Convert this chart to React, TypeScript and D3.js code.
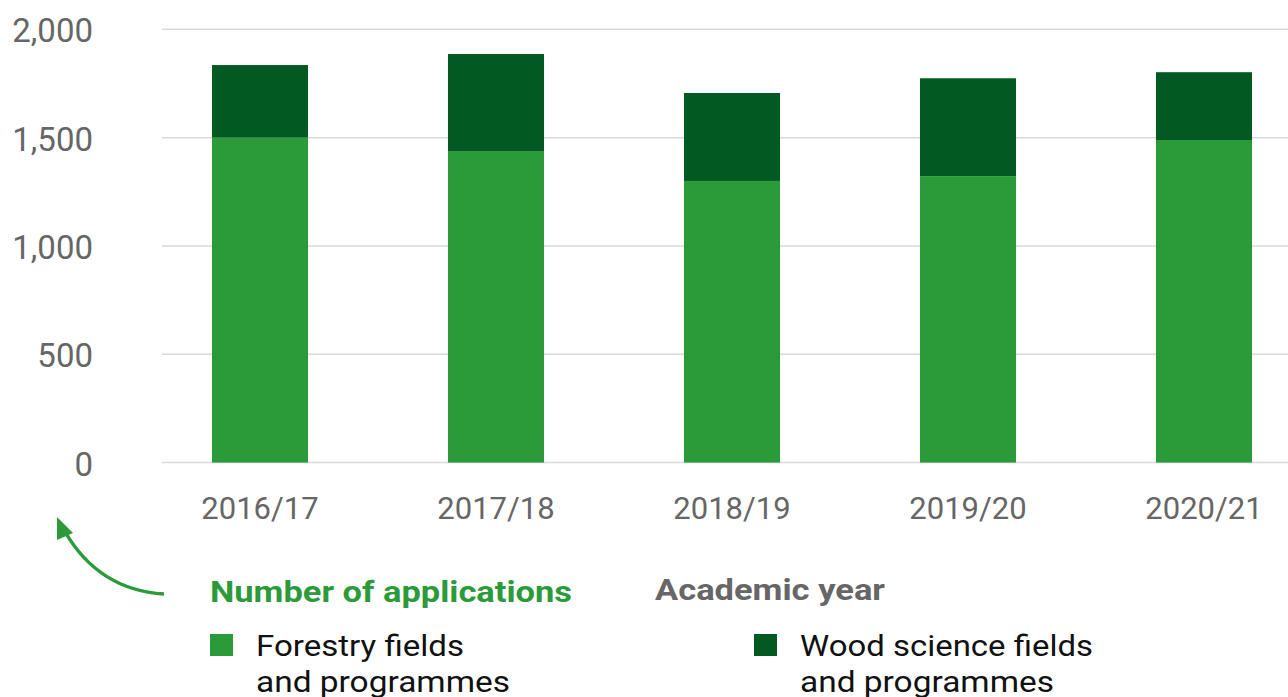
import { useEffect, useRef } from 'react';
import * as d3 from 'd3';

const years = ['2016/17', '2017/18', '2018/19', '2019/20', '2020/21'];
const forestry = [1500, 1438, 1300, 1322, 1489];
const woodScience = [335, 448, 406, 452, 313];
const yTicks = [0, 500, 1000, 1500, 2000];
const seriesNames = [
  ['Forestry fields', 'and programmes'],
  ['Wood science fields', 'and programmes'],
];
const seriesColors = ['#2b9b3a', '#025a22'];

export default function App() {
  const svgRef = useRef<SVGSVGElement>(null);

  useEffect(() => {
    if (!svgRef.current) return;
    const svg = d3.select(svgRef.current);
    svg.selectAll('*').remove();

    const font = 'Roboto, "Noto Sans", sans-serif';

    const x = d3.scaleBand<string>()
      .domain(years)
      .range([142, 1322])
      .paddingInner(0.593)
      .paddingOuter(0.2965);

    const y = d3.scaleLinear().domain([0, 2000]).range([462.6, 29.3]);

    // gridlines
    svg.append('g')
      .selectAll('line')
      .data(yTicks)
      .join('line')
      .attr('x1', 162)
      .attr('x2', 1288)
      .attr('y1', d => y(d))
      .attr('y2', d => y(d))
      .attr('stroke', '#d9d9d9')
      .attr('stroke-width', 1.5);

    // y labels
    svg.append('g')
      .selectAll('text')
      .data(yTicks)
      .join('text')
      .attr('x', 93)
      .attr('y', d => y(d) + 1.5)
      .attr('text-anchor', 'end')
      .attr('dominant-baseline', 'central')
      .style('fill', '#666666')
      .style('font-family', font)
      .style('font-size', '33px')
      .text(d => d3.format(',')(d));

    // stacked bars
    const rows = years.map((yr, i) => ({ year: yr, forestry: forestry[i], wood: woodScience[i] }));
    const stack = d3.stack<any>().keys(['forestry', 'wood'])(rows);

    svg.append('g')
      .selectAll('g')
      .data(stack)
      .join('g')
      .attr('fill', (_, i) => seriesColors[i])
      .selectAll('rect')
      .data(d => d)
      .join('rect')
      .attr('x', d => x(d.data.year)!)
      .attr('width', x.bandwidth())
      .attr('y', d => y(d[1]))
      .attr('height', d => y(d[0]) - y(d[1]));

    // x labels
    svg.append('g')
      .selectAll('text')
      .data(years)
      .join('text')
      .attr('x', d => x(d)! + x.bandwidth() / 2)
      .attr('y', 508)
      .attr('text-anchor', 'middle')
      .attr('dominant-baseline', 'central')
      .style('fill', '#666666')
      .style('font-family', font)
      .style('font-size', '31px')
      .text(d => d);

    // arrow
    svg.append('path')
      .attr('d', 'M164,594 Q98,590 64,530')
      .attr('fill', 'none')
      .attr('stroke', '#2b9b3a')
      .attr('stroke-width', 3.5);
    svg.append('path')
      .attr('d', 'M57,517 L73,533 L57,540 Z')
      .attr('fill', '#2b9b3a');

    // titles
    svg.append('text')
      .attr('x', 210)
      .attr('y', 602)
      .attr('textLength', 362)
      .attr('lengthAdjust', 'spacingAndGlyphs')
      .style('fill', '#2b9b3a')
      .style('font-family', font)
      .style('font-weight', 'bold')
      .style('font-size', '29px')
      .text('Number of applications');

    svg.append('text')
      .attr('x', 655)
      .attr('y', 600)
      .attr('textLength', 230)
      .attr('lengthAdjust', 'spacingAndGlyphs')
      .style('fill', '#666666')
      .style('font-family', font)
      .style('font-weight', 'bold')
      .style('font-size', '29px')
      .text('Academic year');

    // legend
    const legendX = [210, 754];
    const lineWidths = [[208, 254], [293, 254]];
    seriesNames.forEach((lines, i) => {
      const g = svg.append('g').attr('transform', `translate(${legendX[i]},634)`);
      g.append('rect')
        .attr('width', 23)
        .attr('height', 22)
        .attr('fill', seriesColors[i]);
      lines.forEach((line, j) => {
        g.append('text')
          .attr('x', 46)
          .attr('y', 22 + j * 36)
          .attr('textLength', lineWidths[i][j])
          .attr('lengthAdjust', 'spacingAndGlyphs')
          .style('fill', '#111111')
          .style('font-family', font)
          .style('font-size', '29px')
          .text(line);
      });
    });
  }, []);

  return (
    <svg
      ref={svgRef}
      width={1288}
      height={697}
      style={{ position: 'absolute', left: 0, top: 0, background: '#ffffff' }}
    />
  );
}
